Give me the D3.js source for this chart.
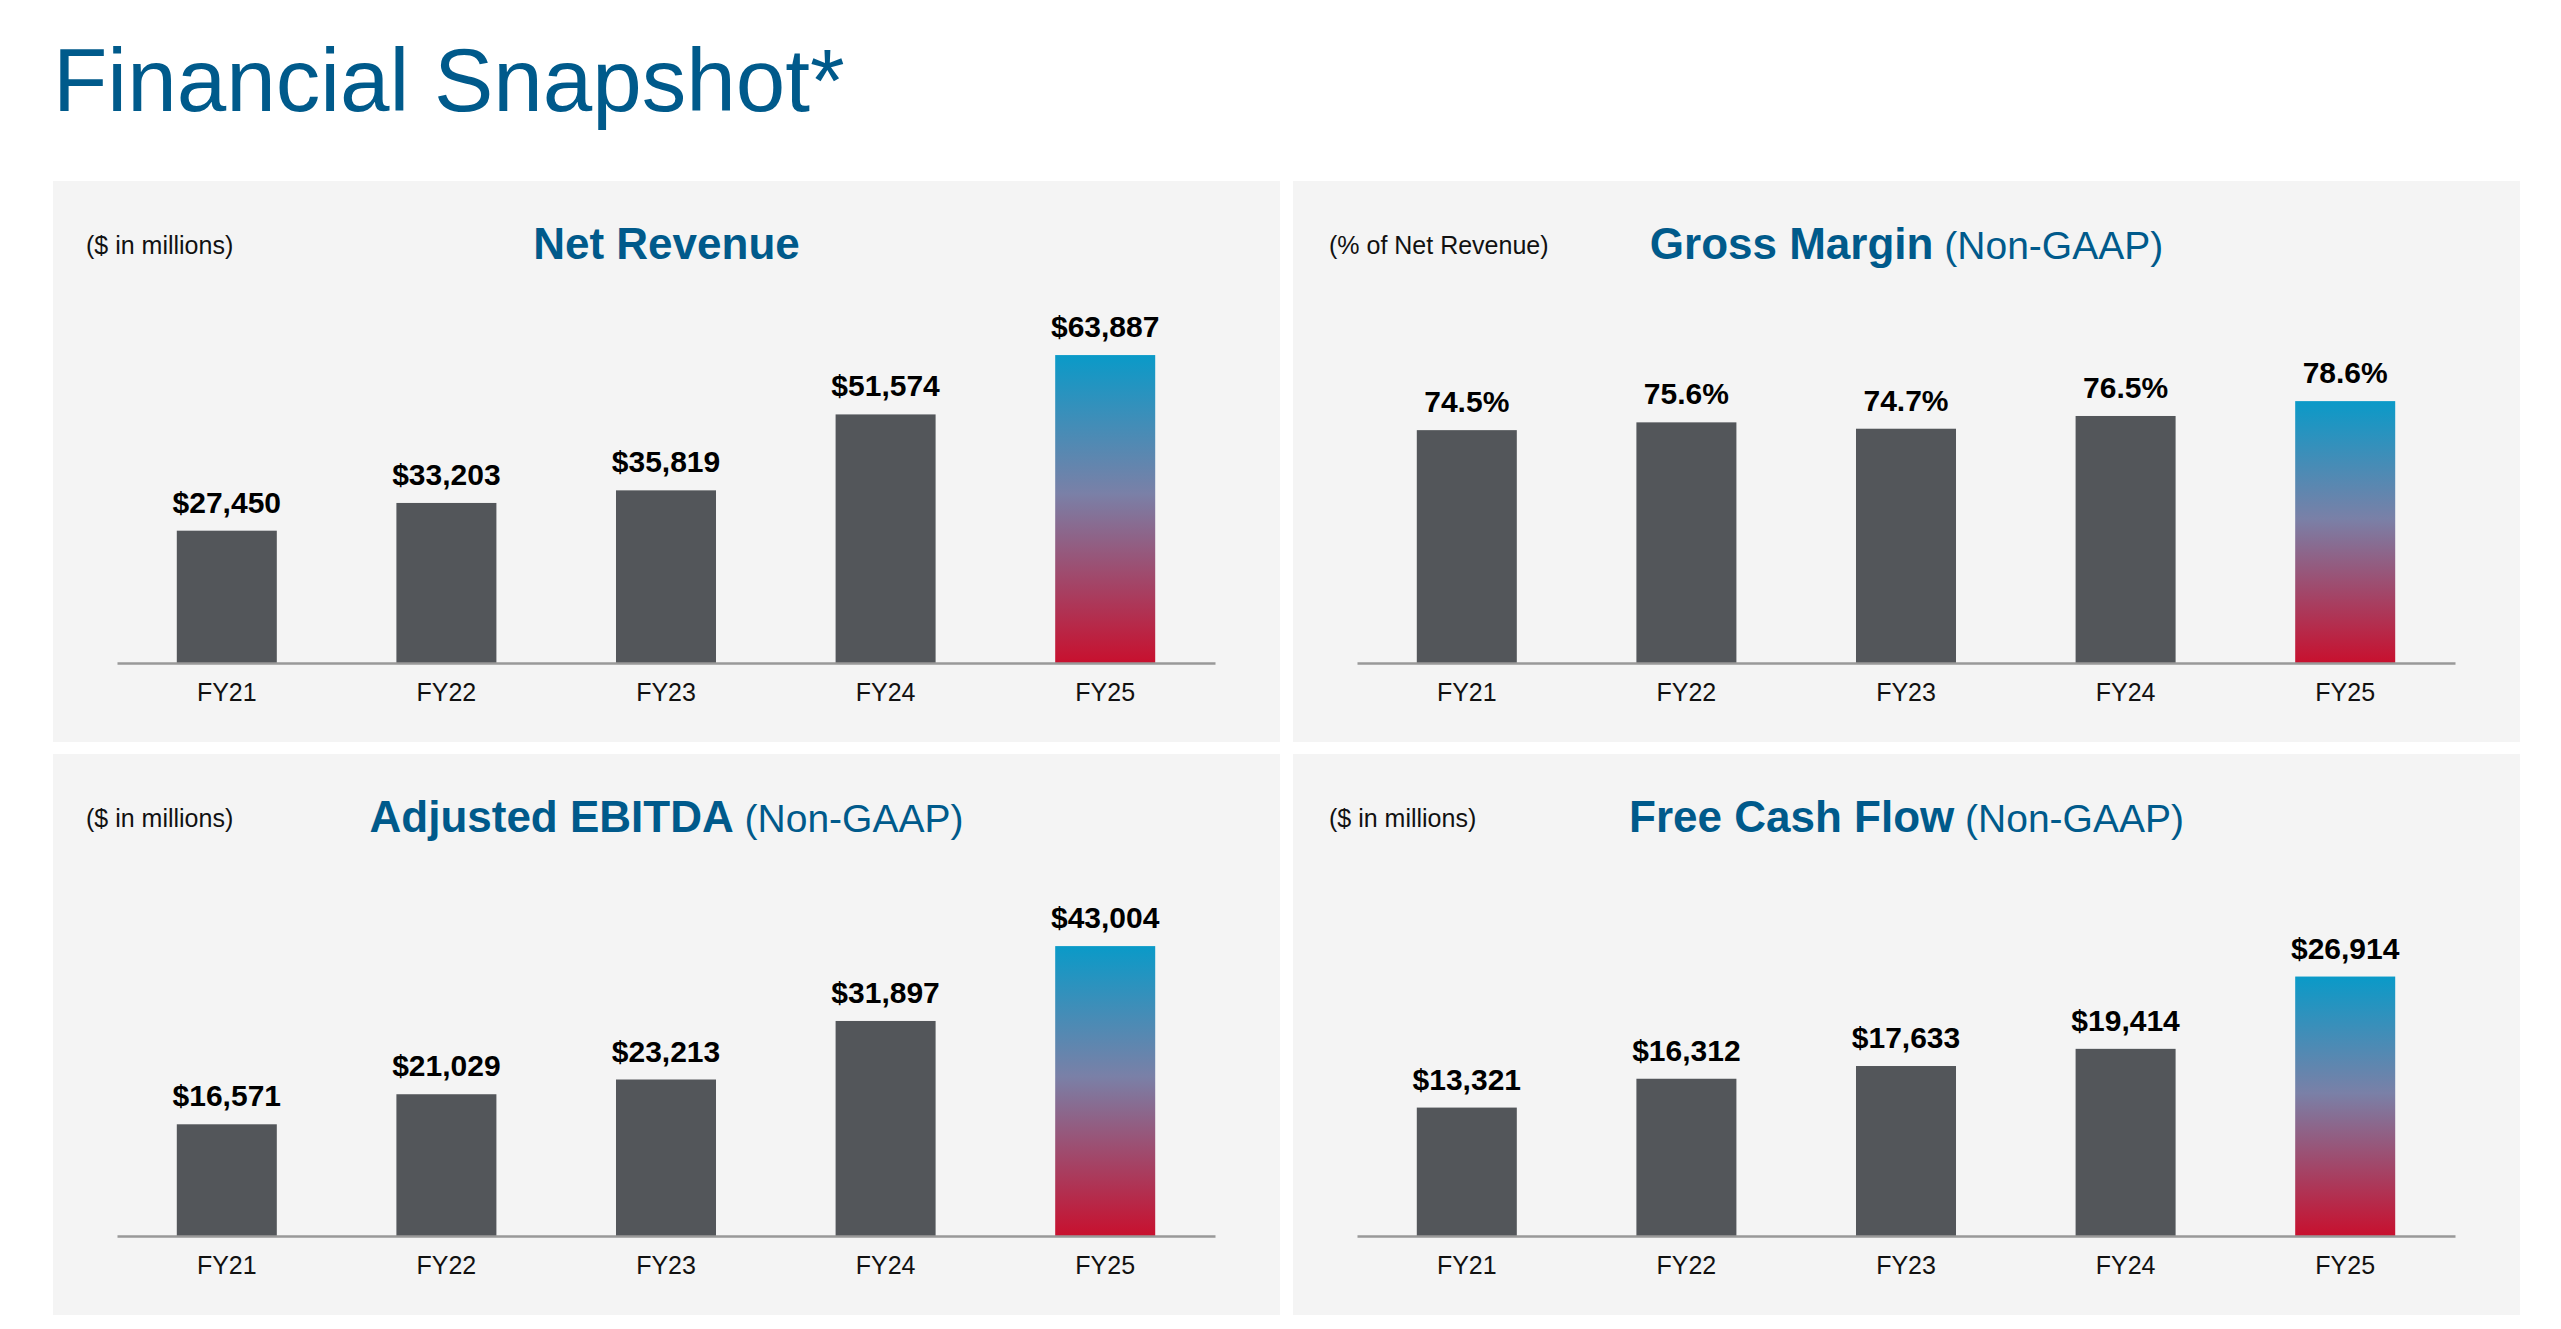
<!DOCTYPE html>
<html>
<head>
<meta charset="utf-8">
<script src="https://cdn.jsdelivr.net/npm/d3@7"></script>
<style>
  body { margin: 0; background: #fff; }
  svg { display: block; font-family: "Liberation Sans", Arial, sans-serif; }
</style>
</head>
<body>
<div id="chart"></div>
<script>
const years = ['FY21', 'FY22', 'FY23', 'FY24', 'FY25'];
const netRevenue = [27450, 33203, 35819, 51574, 63887];
const grossMargin = [74.5, 75.6, 74.7, 76.5, 78.6];
const adjEbitda = [16571, 21029, 23213, 31897, 43004];
const freeCashFlow = [13321, 16312, 17633, 19414, 26914];

const titles = ['Net Revenue', 'Gross Margin', 'Adjusted EBITDA', 'Free Cash Flow'];
const titleSuffix = ['', '(Non-GAAP)', '(Non-GAAP)', '(Non-GAAP)'];
const notes = ['($ in millions)', '(% of Net Revenue)', '($ in millions)', '($ in millions)'];

const width = 2561, height = 1329;
const blue = '#005a8b';

const svg = d3.select('#chart')
    .append('svg')
    .attr('width', width)
    .attr('height', height);

// gradient for the latest year
const grad = svg.append('defs')
    .append('linearGradient')
    .attr('id', 'hl')
    .attr('x1', 0).attr('y1', 0).attr('x2', 0).attr('y2', 1);
grad.append('stop').attr('offset', 0).attr('stop-color', '#0a9ac8');
grad.append('stop').attr('offset', 0.45).attr('stop-color', '#7a80a7');
grad.append('stop').attr('offset', 1).attr('stop-color', '#c8102e');

svg.append('text')
    .attr('x', 53)
    .attr('y', 111)
    .attr('fill', blue)
    .style('font-size', '89px')
    .text('Financial Snapshot*');

const panelW = 1227, panelH = 561, axisY = 482;

const panels = [
    { x: 53, y: 181, values: netRevenue, domain: [0, 100000], fmt: v => '$' + d3.format(',')(v) },
    { x: 1293, y: 181, values: grossMargin, domain: [41.6, 109.7], fmt: v => v.toFixed(1) + '%' },
    { x: 53, y: 754, values: adjEbitda, domain: [0, 71500], fmt: v => '$' + d3.format(',')(v) },
    { x: 1293, y: 754, values: freeCashFlow, domain: [0, 50000], fmt: v => '$' + d3.format(',')(v) }
];

panels.forEach((p, i) => {
    const g = svg.append('g').attr('transform', `translate(${p.x},${p.y})`);

    g.append('rect')
        .attr('width', panelW)
        .attr('height', panelH)
        .attr('fill', '#f4f4f4');

    g.append('text')
        .attr('x', i % 2 === 0 ? 33 : 36)
        .attr('y', 73)
        .attr('fill', '#111')
        .style('font-size', '25px')
        .text(notes[i]);

    const t = g.append('text')
        .attr('x', panelW / 2)
        .attr('y', 78)
        .attr('text-anchor', 'middle')
        .attr('fill', blue);
    t.append('tspan')
        .style('font-size', '44px')
        .style('font-weight', 'bold')
        .text(titles[i]);
    if (titleSuffix[i]) {
        t.append('tspan')
            .style('font-size', '39px')
            .text(' ' + titleSuffix[i]);
    }

    const x = d3.scaleBand()
        .domain(years)
        .range([64, 1162])
        .paddingInner(0.5446)
        .paddingOuter(0.2723);

    const y = d3.scaleLinear()
        .domain(p.domain)
        .range([axisY, 0]);

    // Draw the bars
    g.append('g')
        .selectAll('rect')
        .data(p.values)
        .join('rect')
        .attr('x', (d, j) => x(years[j]))
        .attr('y', d => y(d))
        .attr('width', x.bandwidth())
        .attr('height', d => axisY - y(d))
        .attr('fill', (d, j) => j === years.length - 1 ? 'url(#hl)' : '#53565a');

    g.append('g')
        .selectAll('text')
        .data(p.values)
        .join('text')
        .attr('x', (d, j) => x(years[j]) + x.bandwidth() / 2)
        .attr('y', d => y(d) - 18)
        .attr('text-anchor', 'middle')
        .attr('fill', '#000')
        .style('font-size', '30px')
        .style('font-weight', 'bold')
        .text(d => p.fmt(d));

    const axis = g.append('g')
        .attr('transform', `translate(0,${axisY})`)
        .call(d3.axisBottom(x).tickSize(0).tickSizeOuter(0).tickPadding(20));
    axis.select('.domain')
        .attr('stroke', '#999')
        .attr('stroke-width', 2.5);
    axis.selectAll('text')
        .attr('fill', '#111')
        .style('font-size', '25px')
        .style('font-family', '"Liberation Sans", Arial, sans-serif');
});
</script>
</body>
</html>
